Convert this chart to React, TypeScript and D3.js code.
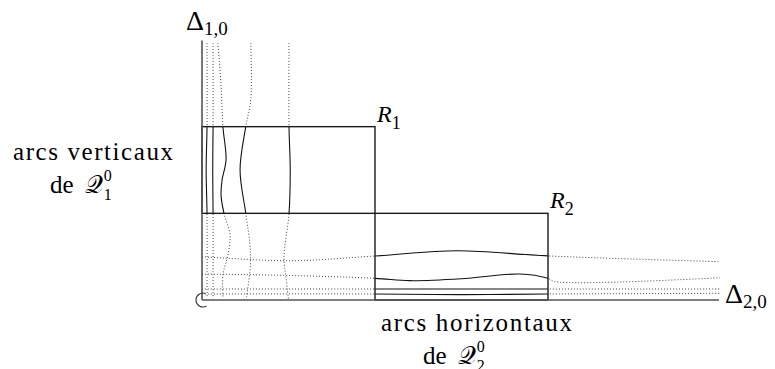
import React from 'react'
import * as d3 from 'd3';

// unit square coordinates: R1 = [0,1]x[1,2], R2 = [1,2]x[0,1]
const rects = [
  { name: 'R', sub: '1', x0: 0, x1: 1, y0: 1, y1: 2 },
  { name: 'R', sub: '2', x0: 1, x1: 2, y0: 0, y1: 1 },
];

const arcV1 = [[0.029, 2.965], [0.029, 2], [0.024, 1.5], [0.029, 1], [0.029, 0.02]];
const arcV2 = [[0.064, 2.965], [0.064, 2], [0.062, 1.5], [0.064, 1], [0.064, 0.02]];
const arcV3 = [[0.092, 2.965], [0.11, 2.48], [0.121, 2], [0.139, 1.615], [0.116, 1.385], [0.11, 1.21], [0.127, 1], [0.162, 0.75], [0.15, 0.52], [0.121, 0.29], [0.121, 0.03]];
const arcV4 = [[0.282, 2.965], [0.282, 2.31], [0.253, 2], [0.22, 1.5], [0.253, 1], [0.277, 0.635], [0.28, 0.4], [0.257, 0.035]];
const arcV5 = [[0.503, 2.965], [0.503, 2], [0.51, 1.5], [0.503, 1], [0.474, 0.485], [0.486, 0.254], [0.5, 0]];
const verticalArcs = [arcV1, arcV2, arcV3, arcV4, arcV5];

const arcH1 = [[0, 0.5], [0.509, 0.453], [1, 0.508], [1.474, 0.569], [2.006, 0.508], [2.994, 0.442]];
const arcH2 = [[0, 0.3], [0.509, 0.283], [1, 0.25], [1.202, 0.223], [1.5, 0.245], [1.838, 0.3], [2, 0.25], [2.04, 0.212], [2.994, 0.257]];
const arcH3 = [[0, 0.127], [1, 0.127], [2, 0.127], [2.994, 0.127]];
const arcH4 = [[0, 0.069], [1, 0.069], [1.5, 0.062], [2, 0.069], [2.994, 0.077]];
const horizontalArcs = [arcH1, arcH2, arcH3, arcH4];

const xDomain = [0, 3];
const yDomain = [0, 3];

const FONT = "'Liberation Serif', 'Times New Roman', serif";

export default function App() {
  const x = d3.scaleLinear().domain(xDomain).range([202, 721]);
  const y = d3.scaleLinear().domain(yDomain).range([300, 40]);

  const line = d3.line()
    .x(d => x(d[0]))
    .y(d => y(d[1]))
    .curve(d3.curveCatmullRom.alpha(0.5));

  const r1 = rects[0], r2 = rects[1];

  const origin = d3.path();
  origin.arc(x(0) + 1, y(0), 7, -Math.PI / 2 + 0.35, Math.PI / 3, true);

  const dotted = { fill: 'none', stroke: '#444', strokeWidth: 1, strokeDasharray: '1 2' };
  const solid = { fill: 'none', stroke: '#111', strokeWidth: 1.1 };

  return (
    <div style={{ position: 'absolute', left: 0, top: 0, fontFamily: FONT }}>
      <style>{`svg text, svg tspan { font-family: ${FONT}; }`}</style>
      <svg width={775} height={369}>
        <defs>
          <clipPath id="inR1">
            <rect x={x(r1.x0)} y={y(r1.y1)} width={x(r1.x1) - x(r1.x0)} height={y(r1.y0) - y(r1.y1)} />
          </clipPath>
          <clipPath id="outR1">
            <rect x={x(0) - 10} y={0} width={x(r1.x1) - x(0) + 20} height={y(r1.y1)} />
            <rect x={x(0) - 10} y={y(r1.y0)} width={x(r1.x1) - x(0) + 20} height={369 - y(r1.y0)} />
          </clipPath>
          <clipPath id="inR2">
            <rect x={x(r2.x0)} y={y(r2.y1)} width={x(r2.x1) - x(r2.x0)} height={y(r2.y0) - y(r2.y1)} />
          </clipPath>
          <clipPath id="outR2">
            <rect x={0} y={y(1) - 5} width={x(r2.x0)} height={y(0) - y(1) + 10} />
            <rect x={x(r2.x1)} y={y(1) - 5} width={775 - x(r2.x1)} height={y(0) - y(1) + 10} />
          </clipPath>
        </defs>

        {/* arcs: solid inside their rectangle, dotted outside */}
        {verticalArcs.map((a, i) => (
          <g key={'v' + i}>
            <path d={line(a)} {...dotted} clipPath="url(#outR1)" />
            <path d={line(a)} {...solid} clipPath="url(#inR1)" />
          </g>
        ))}
        {horizontalArcs.map((a, i) => (
          <g key={'h' + i}>
            <path d={line(a)} {...dotted} clipPath="url(#outR2)" />
            <path d={line(a)} {...solid} clipPath="url(#inR2)" />
          </g>
        ))}

        {rects.map((r, i) => (
          <rect key={'r' + i} x={x(r.x0)} y={y(r.y1)} width={x(r.x1) - x(r.x0)} height={y(r.y0) - y(r.y1)}
            fill="none" stroke="#1a1a1a" strokeWidth={1.4} />
        ))}

        {/* axes */}
        <line x1={x(0)} x2={x(0)} y1={y(0)} y2={y(3) + 0.5} stroke="#555" strokeWidth={1.6} />
        <line x1={x(0)} x2={x(3) - 2} y1={y(0)} y2={y(0)} stroke="#555" strokeWidth={1.6} />
        <path d={origin.toString()} fill="none" stroke="#333" strokeWidth={1.1} />

        {rects.map((r, i) => (
          <text key={'l' + i} x={x(r.x1) + 2} y={y(r.y1) - 5} fontSize={24} fontStyle="italic">
            {r.name}<tspan fontSize={18} fontStyle="normal" dy={7}>{r.sub}</tspan>
          </text>
        ))}
        <text x={x(0) - 16} y={y(3) - 10} fontSize={28}>
          Δ<tspan fontSize={19} dy={5}>1,0</tspan>
        </text>
        <text x={x(3) + 4} y={y(0) + 3} fontSize={28}>
          Δ<tspan fontSize={19} dy={5}>2,0</tspan>
        </text>

        <text x={13} y={160} fontSize={25} textLength={160}>arcs verticaux</text>
        <text x={50} y={193} fontSize={25}>
          de <tspan dx={5}>𝒬</tspan><tspan fontSize={16} dx={1} dy={-12}>0</tspan><tspan fontSize={16} dx={-8} dy={19}>1</tspan>
        </text>
        <text x={381} y={331} fontSize={25} textLength={191}>arcs horizontaux</text>
        <text x={423} y={364} fontSize={25}>
          de <tspan dx={5}>𝒬</tspan><tspan fontSize={16} dx={1} dy={-12}>0</tspan><tspan fontSize={16} dx={-8} dy={19}>2</tspan>
        </text>
      </svg>
    </div>
  );
}
